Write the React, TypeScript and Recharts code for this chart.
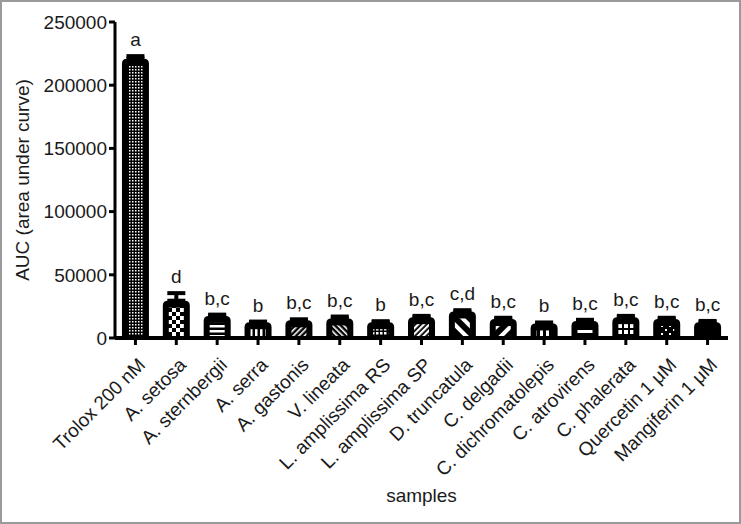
import React from "react";
import {
  BarChart,
  Bar,
  XAxis,
  YAxis,
  ErrorBar,
  LabelList,
} from "recharts";

const samples = [
  "Trolox 200 nM",
  "A. setosa",
  "A. sternbergii",
  "A. serra",
  "A. gastonis",
  "V. lineata",
  "L. amplissima RS",
  "L. amplissima SP",
  "D. truncatula",
  "C. delgadii",
  "C. dichromatolepis",
  "C. atrovirens",
  "C. phalerata",
  "Quercetin 1 μM",
  "Mangiferin 1 μM",
];

const aucMeans = [
  221000, 29500, 17500, 12500, 14000, 15500, 12500, 16500, 21000, 15000,
  11500, 13500, 16500, 15000, 12500,
];

const aucErrors = [
  2000, 6000, 1000, 500, 800, 1500, 800, 1000, 1000, 1000, 800, 900, 1000,
  1000, 1000,
];

const letters = [
  "a", "d", "b,c", "b", "b,c", "b,c", "b", "b,c", "c,d", "b,c", "b", "b,c",
  "b,c", "b,c", "b,c",
];

const yTicks = [0, 50000, 100000, 150000, 200000, 250000];

const patternIds = [
  "p-dots", "p-checker", "p-hlines", "p-vlines", "p-diagR", "p-diagL",
  "p-smallgrid", "p-hatch", "p-thickL", "p-thickR", "p-vthick", "p-hthick",
  "p-grid", "p-scatter", "p-solid",
];

// only the upper half of the SEM shows above the bars
const data = samples.map((name, i) => ({
  name,
  auc: aucMeans[i],
  err: [0, aucErrors[i]],
  letter: letters[i],
}));

const FONT = "'Liberation Sans', Arial, sans-serif";
const INK = "#1a1a1a";

function PatternDefs() {
  return (
    <svg width="0" height="0" style={{ position: "absolute" }}>
      <defs>
        <pattern id="p-dots" width="3" height="3" patternUnits="userSpaceOnUse">
          <rect width="3" height="3" fill="#000" />
          <rect width="1.5" height="1.5" fill="#fff" />
        </pattern>
        <pattern id="p-checker" width="8" height="8" patternUnits="userSpaceOnUse">
          <rect width="8" height="8" fill="#000" />
          <rect width="4" height="4" fill="#fff" />
          <rect x="4" y="4" width="4" height="4" fill="#fff" />
        </pattern>
        <pattern id="p-hlines" width="5" height="5" patternUnits="userSpaceOnUse">
          <rect width="5" height="5" fill="#000" />
          <rect width="5" height="2.5" fill="#fff" />
        </pattern>
        <pattern id="p-vlines" width="5" height="5" patternUnits="userSpaceOnUse">
          <rect width="5" height="5" fill="#000" />
          <rect width="2.5" height="5" fill="#fff" />
        </pattern>
        <pattern id="p-diagR" width="4" height="4" patternUnits="userSpaceOnUse" patternTransform="rotate(45)">
          <rect width="4" height="4" fill="#000" />
          <rect width="1.6" height="4" fill="#fff" />
        </pattern>
        <pattern id="p-diagL" width="4" height="4" patternUnits="userSpaceOnUse" patternTransform="rotate(-45)">
          <rect width="4" height="4" fill="#000" />
          <rect width="1.6" height="4" fill="#fff" />
        </pattern>
        <pattern id="p-smallgrid" width="4" height="4" patternUnits="userSpaceOnUse">
          <rect width="4" height="4" fill="#000" />
          <rect width="2.5" height="2.5" fill="#fff" />
        </pattern>
        <pattern id="p-hatch" width="4" height="4" patternUnits="userSpaceOnUse" patternTransform="rotate(45)">
          <rect width="4" height="4" fill="#000" />
          <rect width="2.2" height="4" fill="#fff" />
        </pattern>
        <pattern id="p-thickL" width="10" height="10" patternUnits="userSpaceOnUse" patternTransform="rotate(-45)">
          <rect width="10" height="10" fill="#000" />
          <rect width="4" height="10" fill="#fff" />
        </pattern>
        <pattern id="p-thickR" width="10" height="10" patternUnits="userSpaceOnUse" patternTransform="rotate(45)">
          <rect width="10" height="10" fill="#000" />
          <rect width="4" height="10" fill="#fff" />
        </pattern>
        <pattern id="p-vthick" width="6" height="6" patternUnits="userSpaceOnUse">
          <rect width="6" height="6" fill="#000" />
          <rect width="3" height="6" fill="#fff" />
        </pattern>
        <pattern id="p-hthick" width="8" height="7" patternUnits="userSpaceOnUse">
          <rect width="8" height="7" fill="#000" />
          <rect y="1" width="8" height="3" fill="#fff" />
        </pattern>
        <pattern id="p-grid" width="6" height="6" patternUnits="userSpaceOnUse">
          <rect width="6" height="6" fill="#000" />
          <rect width="4" height="4" fill="#fff" />
        </pattern>
        <pattern id="p-scatter" width="8" height="8" patternUnits="userSpaceOnUse">
          <rect width="8" height="8" fill="#000" />
          <rect x="1" y="1" width="2" height="2" fill="#fff" />
          <rect x="5" y="5" width="2" height="2" fill="#fff" />
        </pattern>
        <pattern id="p-solid" width="4" height="4" patternUnits="userSpaceOnUse">
          <rect width="4" height="4" fill="#000" />
        </pattern>
      </defs>
    </svg>
  );
}

function PatternBar(props: any) {
  const { x, y, width, height, index } = props;
  if (height <= 0) return null;
  const r = Math.min(5, width / 2, height / 2);
  const outline = `M${x},${y + height} L${x},${y + r} Q${x},${y} ${x + r},${y} L${x + width - r},${y} Q${x + width},${y} ${x + width},${y + r} L${x + width},${y + height} Z`;
  const inset = 6;
  const innerTop = y + 7;
  const innerBottom = y + height - 2;
  return (
    <g>
      <path d={outline} fill="#000" />
      {innerBottom - innerTop > 1 && (
        <rect
          x={x + inset}
          y={innerTop}
          width={width - inset * 2}
          height={innerBottom - innerTop}
          fill={`url(#${patternIds[index]})`}
        />
      )}
    </g>
  );
}

function XTick(props: any) {
  const { x, y, payload } = props;
  const tx = x + 11;
  const ty = y + 19;
  return (
    <text
      x={tx}
      y={ty}
      transform={`rotate(-45, ${tx}, ${ty})`}
      textAnchor="end"
      fontFamily={FONT}
      fontSize={19}
      fill={INK}
    >
      {payload.value}
    </text>
  );
}

function LetterLabel(props: any) {
  const { x, y, width, height, index, value } = props;
  const d = data[index];
  const pxPerUnit = d.auc > 0 ? height / d.auc : 0;
  const top = y - d.err[1] * pxPerUnit;
  return (
    <text
      x={x + width / 2}
      y={top - 10}
      textAnchor="middle"
      fontFamily={FONT}
      fontSize={19}
      fill={INK}
    >
      {value}
    </text>
  );
}

export default function App() {
  return (
    <div
      style={{
        position: "absolute",
        left: 0,
        top: 0,
        width: 741,
        height: 524,
        background: "#fff",
      }}
    >
      <PatternDefs />
      <BarChart
        width={741}
        height={524}
        data={data}
        margin={{ top: 22, right: 13, bottom: 0, left: 0 }}
        barCategoryGap="17%"
      >
        <XAxis
          dataKey="name"
          interval={0}
          height={186}
          axisLine={{ stroke: "#000", strokeWidth: 4 }}
          tickLine={{ stroke: "#000", strokeWidth: 3 }}
          tickSize={7}
          tick={<XTick />}
          label={({ viewBox }: any) => (
            <text
              x={viewBox.x + viewBox.width / 2}
              y={502}
              textAnchor="middle"
              fontFamily={FONT}
              fontSize={19}
              fill={INK}
            >
              samples
            </text>
          )}
        />
        <YAxis
          width={115}
          domain={[0, 250000]}
          ticks={yTicks}
          interval={0}
          axisLine={{ stroke: "#000", strokeWidth: 3 }}
          tickLine={{ stroke: "#000", strokeWidth: 3 }}
          tickSize={6}
          tick={{ fontFamily: FONT, fontSize: 19, fill: INK }}
          label={({ viewBox }: any) => {
            const cx = 22;
            const cy = viewBox.y + viewBox.height / 2;
            return (
              <text
                x={cx}
                y={cy}
                transform={`rotate(-90, ${cx}, ${cy})`}
                textAnchor="middle"
                dominantBaseline="central"
                fontFamily={FONT}
                fontSize={19}
                fill={INK}
              >
                AUC (area under curve)
              </text>
            );
          }}
        />
        <Bar dataKey="auc" shape={<PatternBar />} isAnimationActive={false}>
          <ErrorBar
            dataKey="err"
            direction="y"
            width={9}
            stroke="#000"
            strokeWidth={4}
          />
          <LabelList dataKey="letter" content={<LetterLabel />} />
        </Bar>
      </BarChart>
      <div
        style={{
          position: "absolute",
          inset: 0,
          border: "2px solid #9a9a9a",
          pointerEvents: "none",
        }}
      />
    </div>
  );
}
